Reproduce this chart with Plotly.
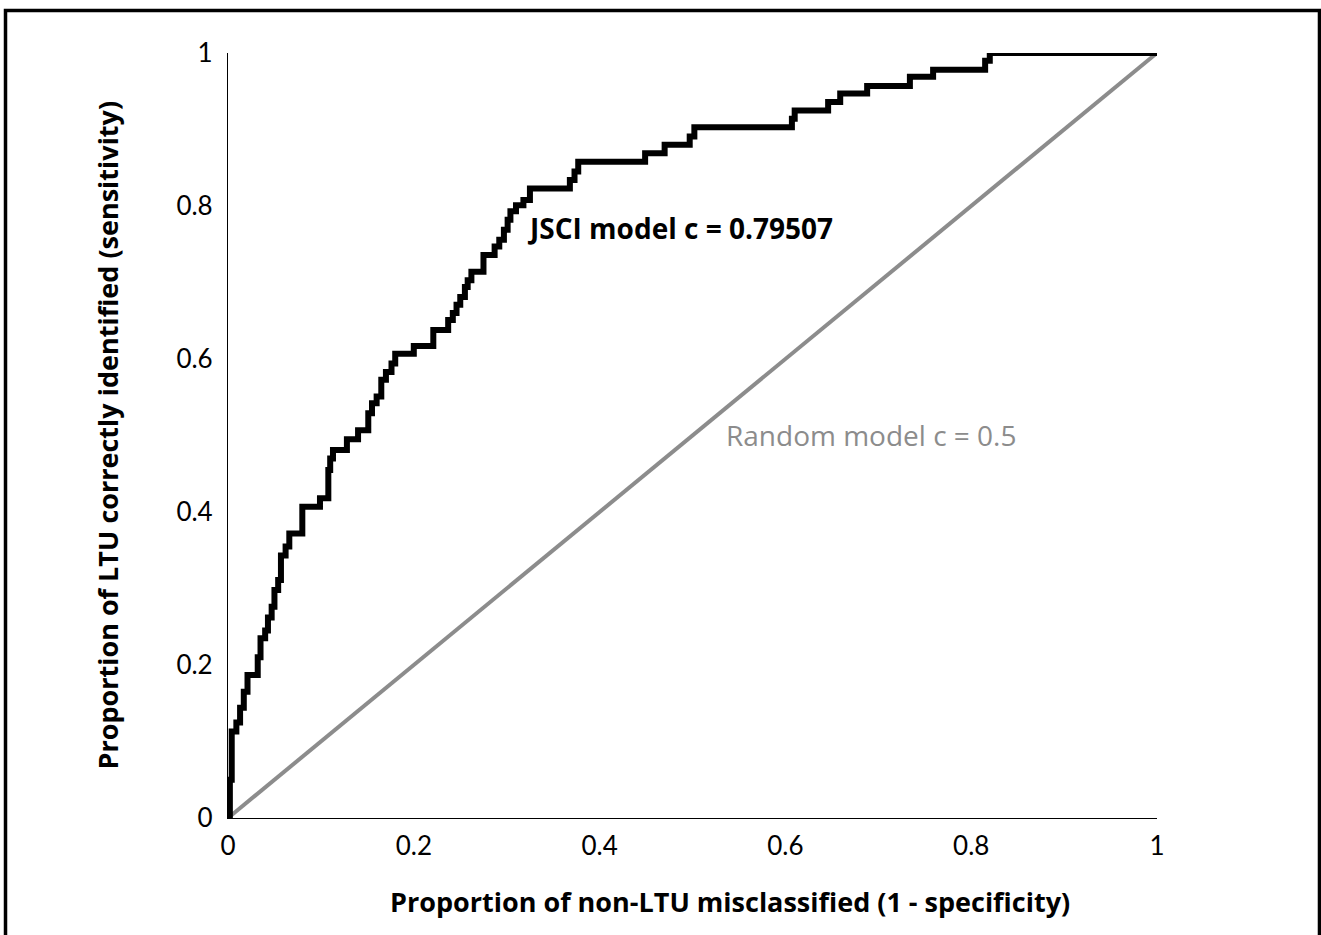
import plotly.graph_objects as go

# ROC curve vertices (top of each vertical step)
fpr = [0.0, 0.002, 0.004, 0.009, 0.013, 0.017, 0.021, 0.032, 0.035, 0.040,
       0.043, 0.047, 0.050, 0.054, 0.057, 0.062, 0.066, 0.080, 0.099, 0.108,
       0.110, 0.113, 0.128, 0.140, 0.151, 0.155, 0.160, 0.165, 0.170, 0.176,
       0.180, 0.200, 0.221, 0.237, 0.242, 0.246, 0.250, 0.255, 0.258, 0.262,
       0.275, 0.287, 0.292, 0.297, 0.301, 0.304, 0.310, 0.318, 0.325, 0.368,
       0.373, 0.377, 0.449, 0.470, 0.497, 0.502, 0.607, 0.610, 0.646, 0.659,
       0.688, 0.734, 0.759, 0.815, 0.820, 1.0]
tpr = [0.0, 0.050, 0.113, 0.125, 0.144, 0.165, 0.187, 0.210, 0.235, 0.245,
       0.262, 0.276, 0.298, 0.311, 0.343, 0.355, 0.372, 0.407, 0.418, 0.455,
       0.470, 0.481, 0.495, 0.507, 0.529, 0.542, 0.551, 0.573, 0.583, 0.594,
       0.607, 0.617, 0.638, 0.651, 0.660, 0.671, 0.681, 0.694, 0.703, 0.714,
       0.736, 0.747, 0.756, 0.769, 0.782, 0.793, 0.801, 0.808, 0.823, 0.834,
       0.845, 0.858, 0.869, 0.880, 0.891, 0.903, 0.914, 0.925, 0.936, 0.947,
       0.957, 0.969, 0.978, 0.990, 1.0, 1.0]

random_x = [0, 1]
random_y = [0, 1]

tick_vals = [0, 0.2, 0.4, 0.6, 0.8, 1]
tick_text = ["0", "0.2", "0.4", "0.6", "0.8", "1"]

jsci_label = "JSCI model c = 0.79507"
random_label = "Random model c = 0.5"

x_title = "Proportion of non-LTU misclassified (1 - specificity)"
y_title = "Proportion of LTU correctly identified (sensitivity)"

TICK_FONT = "Lato"
TEXT_FONT = "Open Sans"
TITLE_SIZE = 27
LABEL_SIZE = 28

fig = go.Figure()
fig.add_trace(go.Scatter(x=random_x, y=random_y, mode="lines",
                         line=dict(color="#8c8c8c", width=4),
                         showlegend=False, hoverinfo="skip"))
fig.add_trace(go.Scatter(x=fpr, y=tpr, mode="lines",
                         line=dict(color="black", width=6, shape="hv"),
                         showlegend=False))

fig.add_annotation(x=0.3197, y=0.771, xref="x", yref="y", text="<b>" + jsci_label + "</b>",
                   showarrow=False, xanchor="left", yanchor="middle",
                   font=dict(family=TEXT_FONT, size=LABEL_SIZE, color="black"))
fig.add_annotation(x=0.534, y=0.5007, xref="x", yref="y", text=random_label,
                   showarrow=False, xanchor="left", yanchor="middle",
                   font=dict(family=TEXT_FONT, size=LABEL_SIZE, color="#8c8c8c"))

# axis titles
fig.add_annotation(x=0.5404, y=-0.1098, xref="paper", yref="paper",
                   text="<b>" + x_title + "</b>", showarrow=False,
                   xanchor="center", yanchor="middle",
                   font=dict(family=TEXT_FONT, size=TITLE_SIZE, color="black"))
fig.add_annotation(x=-0.1302, y=0.5, xref="paper", yref="paper",
                   text="<b>" + y_title + "</b>", showarrow=False, textangle=-90,
                   xanchor="center", yanchor="middle",
                   font=dict(family=TEXT_FONT, size=TITLE_SIZE, color="black"))

# outer frame
fig.add_shape(type="rect", xref="paper", yref="paper",
              x0=-0.2395, x1=1.1749, y0=-0.17, y1=1.0556,
              line=dict(color="black", width=3.5), fillcolor="rgba(0,0,0,0)")

fig.update_layout(
    width=1321, height=935,
    margin=dict(l=228, r=164, t=53, b=117),
    paper_bgcolor="white", plot_bgcolor="white",
    font=dict(family=TICK_FONT, size=26, color="black"),
    xaxis=dict(range=[0, 1], tickvals=tick_vals, ticktext=tick_text,
               showgrid=False, zeroline=False, showline=True, linecolor="black",
               linewidth=1.2, ticks="", ticklabelstandoff=5,
               tickfont=dict(family=TICK_FONT, size=26, color="black")),
    yaxis=dict(range=[0, 1], tickvals=tick_vals, ticktext=tick_text,
               showgrid=False, zeroline=False, showline=True, linecolor="black",
               linewidth=1.2, ticks="", ticklabelstandoff=9,
               tickfont=dict(family=TICK_FONT, size=26, color="black")),
)

fig.write_html("out.html",
               config={"displayModeBar": False},
               post_script="document.body.style.margin='0';document.body.style.overflow='hidden';")
